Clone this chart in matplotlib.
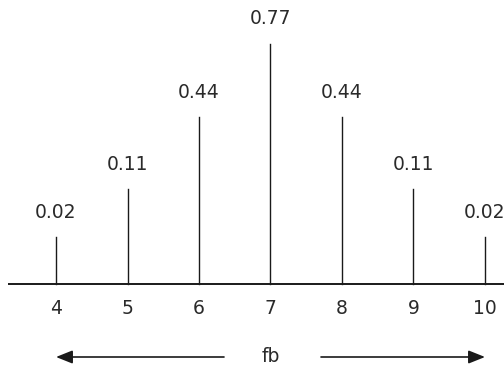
import matplotlib
matplotlib.use("Agg")
import matplotlib.pyplot as plt

# data
x_values = [4, 5, 6, 7, 8, 9, 10]
prob_labels = ["0.02", "0.11", "0.44", "0.77", "0.44", "0.11", "0.02"]
stem_heights = [47, 95, 167, 240, 167, 95, 47]  # drawn lengths (arbitrary units)
tick_labels = ["4", "5", "6", "7", "8", "9", "10"]
axis_label = "fb"

fig = plt.figure(figsize=(5.04, 3.68), dpi=100)
ax = fig.add_axes([0, 0, 1, 1])
ax.set_xlim(4 - 56 / 71.5, 4 + 448 / 71.5)
ax.set_ylim(-84, 284)
ax.axis("off")

col = "#1a1a1a"
tcol = "#2a2a2a"
fs = 13.5
# baseline
ax.plot([4 - 48 / 71.5, 11], [0, 0], color=col, lw=1.4, solid_capstyle="butt")
for x, h, lab, tl in zip(x_values, stem_heights, prob_labels, tick_labels):
    ax.plot([x, x], [0, h], color=col, lw=1.0)
    ax.text(x, h + 25, lab, ha="center", va="center", fontsize=fs, color=tcol)
    ax.text(x, -24, tl, ha="center", va="center", fontsize=fs, color=tcol)

ax.text(7, -73, axis_label, ha="center", va="center", fontsize=fs, color=tcol)
arrow_kw = dict(arrowstyle="-|>,head_length=1.0,head_width=0.4", color=col, lw=1.2,
                shrinkA=0, shrinkB=0)
ax.annotate("", xy=(4.0, -73), xytext=(4 + 168 / 71.5, -73), arrowprops=arrow_kw)
ax.annotate("", xy=(10.0, -73), xytext=(4 + 265 / 71.5, -73), arrowprops=arrow_kw)

fig.savefig("out.png", dpi=100, facecolor="white")
